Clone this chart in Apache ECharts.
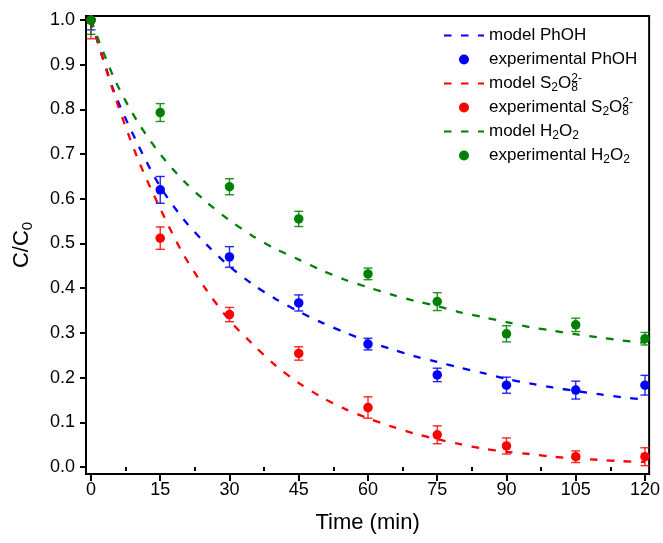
<!DOCTYPE html>
<html>
<head>
<meta charset="utf-8">
<script src="https://cdn.jsdelivr.net/npm/echarts@6/dist/echarts.min.js"></script>
<style>
html,body{margin:0;padding:0;background:#fff;}
#chart{width:663px;height:543px;}
</style>
</head>
<body>
<div id="chart"></div>
<script>
// ---- data ----
const expTime = [0, 15, 30, 45, 60, 75, 90, 105, 120];
const expPhOH = [1.0, 0.62, 0.47, 0.367, 0.275, 0.206, 0.183, 0.172, 0.183];
const errPhOH = [0.022, 0.03, 0.023, 0.018, 0.013, 0.015, 0.018, 0.02, 0.022];
const expS2O8 = [1.0, 0.512, 0.341, 0.254, 0.133, 0.072, 0.047, 0.023, 0.023];
const errS2O8 = [0.042, 0.025, 0.016, 0.015, 0.024, 0.02, 0.018, 0.013, 0.02];
const expH2O2 = [1.0, 0.793, 0.627, 0.555, 0.432, 0.37, 0.298, 0.318, 0.287];
const errH2O2 = [0.032, 0.02, 0.018, 0.017, 0.013, 0.02, 0.018, 0.015, 0.014];

const modelTime = [0, 5, 10, 15, 20, 25, 30, 35, 40, 45, 50, 55, 60, 65, 70, 75, 80, 85, 90, 95, 100, 105, 110, 115, 120];
const modelPhOH = [1.0, 0.84, 0.725, 0.627, 0.555, 0.498, 0.449, 0.409, 0.376, 0.348, 0.323, 0.301, 0.281, 0.264, 0.248, 0.235, 0.222, 0.21, 0.197, 0.187, 0.178, 0.17, 0.163, 0.156, 0.151];
const modelS2O8 = [1.0, 0.835, 0.693, 0.578, 0.476, 0.396, 0.328, 0.275, 0.227, 0.188, 0.156, 0.13, 0.109, 0.091, 0.075, 0.062, 0.051, 0.041, 0.034, 0.029, 0.023, 0.019, 0.016, 0.013, 0.011];
const modelH2O2 = [1.0, 0.87, 0.774, 0.70, 0.641, 0.593, 0.552, 0.517, 0.488, 0.464, 0.44, 0.419, 0.402, 0.386, 0.372, 0.36, 0.346, 0.335, 0.324, 0.313, 0.305, 0.297, 0.29, 0.283, 0.278];

const xTicks = [0, 15, 30, 45, 60, 75, 90, 105, 120];
const xMinorTicks = [7.5, 22.5, 37.5, 52.5, 67.5, 82.5, 97.5, 112.5];
const yTicks = [0, 0.1, 0.2, 0.3, 0.4, 0.5, 0.6, 0.7, 0.8, 0.9, 1.0];

const seriesNames = ['model PhOH', 'experimental PhOH', 'model S2O8', 'experimental S2O8', 'model H2O2', 'experimental H2O2'];
const legendLabels = {
  'model PhOH': 'model PhOH',
  'experimental PhOH': 'experimental PhOH',
  'model S2O8': 'model S{sub|2}O{sub8|8}{sup|2-}',
  'experimental S2O8': 'experimental S{sub|2}O{sub8|8}{sup|2-}',
  'model H2O2': 'model H{sub|2}O{sub|2}',
  'experimental H2O2': 'experimental H{sub|2}O{sub|2}'
};
// ---- end data ----

const BLUE = '#0000ff', RED = '#ff0000', GREEN = '#008000';
const FONT = 'Liberation Sans, Arial, sans-serif';

function pairs(xs, ys) { return xs.map((x, i) => [x, ys[i]]); }
function errData(xs, ys, es) { return xs.map((x, i) => [x, ys[i] - es[i], ys[i] + es[i]]); }

function modelSeries(name, ys, color) {
  return {
    name: name, type: 'line', data: pairs(modelTime, ys), symbol: 'none', smooth: 0.3,
    lineStyle: { color: color, width: 2.3, type: [7.5, 9.5] }, itemStyle: { color: color },
    z: 3
  };
}
function errSeries(name, ys, es, color) {
  return {
    name: name + ' err', type: 'custom', clip: true, z: 4,
    data: errData(expTime, ys, es),
    renderItem: function (params, api) {
      const x = api.value(0);
      const lo = api.coord([x, api.value(1)]);
      const hi = api.coord([x, api.value(2)]);
      const w = 4.5;
      const st = { stroke: color, lineWidth: 1.4, opacity: 0.85 };
      return {
        type: 'group', children: [
          { type: 'line', shape: { x1: lo[0], y1: lo[1], x2: hi[0], y2: hi[1] }, style: st },
          { type: 'line', shape: { x1: lo[0] - w, y1: lo[1], x2: lo[0] + w, y2: lo[1] }, style: st },
          { type: 'line', shape: { x1: hi[0] - w, y1: hi[1], x2: hi[0] + w, y2: hi[1] }, style: st }
        ]
      };
    }
  };
}
function expSeries(name, ys, color) {
  return {
    name: name, type: 'scatter', data: pairs(expTime, ys), symbol: 'circle', symbolSize: 9.5,
    itemStyle: { color: color, opacity: 1 }, z: 5
  };
}

const legendData = seriesNames.map(n => n.indexOf('model') === 0
  ? { name: n, itemStyle: { color: 'rgba(0,0,0,0)', opacity: 0, borderWidth: 0 } }
  : { name: n });

const chart = echarts.init(document.getElementById('chart'), null, { renderer: 'canvas' });
const axisMin = -1.08, axisMax = 120.9;
const yMin = -0.0157, yMax = 1.009;

chart.setOption({
  animation: false,
  backgroundColor: '#fff',
  textStyle: { fontFamily: FONT },
  grid: { left: 86, right: 11, top: 16, bottom: 69, show: true, borderColor: '#000', borderWidth: 2, backgroundColor: 'transparent' },
  legend: {
    data: legendData, orient: 'vertical', left: 443, top: 25, itemWidth: 40, itemHeight: 10, itemGap: 3, padding: 0,
    formatter: function (n) { return legendLabels[n]; },
    textStyle: {
      fontFamily: FONT, fontSize: 17, color: '#000', lineHeight: 21,
      rich: {
        sub: { fontFamily: FONT, fontSize: 12, lineHeight: 12, verticalAlign: 'bottom' },
        sub8: { fontFamily: FONT, fontSize: 12, lineHeight: 12, verticalAlign: 'bottom', width: 0 },
        sup: { fontFamily: FONT, fontSize: 12, lineHeight: 12, verticalAlign: 'top' }
      }
    }
  },
  xAxis: [
    {
      type: 'value', min: axisMin, max: axisMax,
      name: 'Time (min)', nameLocation: 'middle', nameGap: 38,
      nameTextStyle: { fontFamily: FONT, fontSize: 22, color: '#000' },
      axisLine: { show: true, onZero: false, lineStyle: { color: '#000', width: 2 } },
      axisTick: { show: true, customValues: xTicks, length: 7, lineStyle: { color: '#000', width: 2 } },
      axisLabel: { customValues: xTicks, margin: 7, fontFamily: FONT, fontSize: 18, color: '#000' },
      splitLine: { show: false }
    },
    {
      type: 'value', min: axisMin, max: axisMax, position: 'bottom',
      axisLine: { show: false },
      axisTick: { show: true, customValues: xMinorTicks, length: 4, lineStyle: { color: '#000', width: 2 } },
      axisLabel: { show: false }, splitLine: { show: false }
    }
  ],
  yAxis: [
    {
      type: 'value', min: yMin, max: yMax,
      name: '{a|C/C}{s|0}', nameLocation: 'middle', nameGap: 51, nameRotate: 90,
      nameTextStyle: {
        fontFamily: FONT, fontSize: 22, color: '#000', lineHeight: 26,
        rich: {
          a: { fontFamily: FONT, fontSize: 22, color: '#000', lineHeight: 26 },
          s: { fontFamily: FONT, fontSize: 15, color: '#000', lineHeight: 15, verticalAlign: 'bottom' }
        }
      },
      axisLine: { show: true, onZero: false, lineStyle: { color: '#000', width: 2 } },
      axisTick: { show: true, customValues: yTicks, length: 6, lineStyle: { color: '#000', width: 2 } },
      axisLabel: { customValues: yTicks, margin: 11, fontFamily: FONT, fontSize: 18, color: '#000', formatter: v => v.toFixed(1) },
      splitLine: { show: false }
    }
  ],
  series: [
    modelSeries(seriesNames[0], modelPhOH, BLUE),
    errSeries(seriesNames[1], expPhOH, errPhOH, BLUE),
    expSeries(seriesNames[1], expPhOH, BLUE),
    modelSeries(seriesNames[2], modelS2O8, RED),
    errSeries(seriesNames[3], expS2O8, errS2O8, RED),
    expSeries(seriesNames[3], expS2O8, RED),
    modelSeries(seriesNames[4], modelH2O2, GREEN),
    errSeries(seriesNames[5], expH2O2, errH2O2, GREEN),
    expSeries(seriesNames[5], expH2O2, GREEN)
  ]
});
</script>
</body>
</html>
